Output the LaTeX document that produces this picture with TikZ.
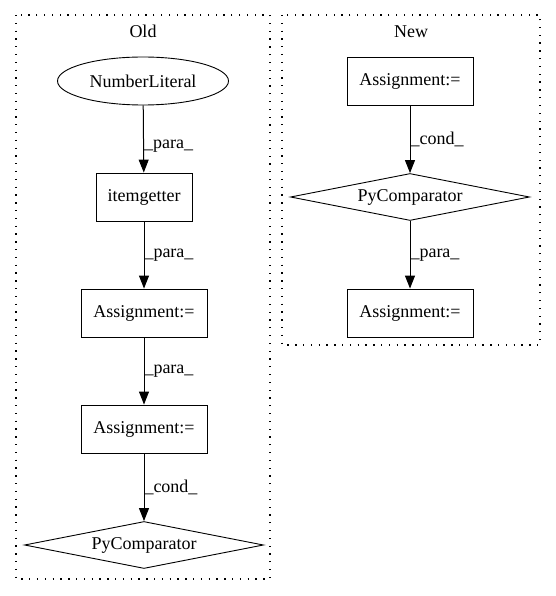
\documentclass[tikz,border=0pt]{standalone}
\usepackage{fontspec}
\setmainfont{Liberation Serif}
\usetikzlibrary{shapes.geometric, arrows.meta}
\tikzstyle{arrow} = [line width=1pt,->,>={Triangle[length=13pt,width=10pt]}]
\tikzstyle{stmt} = [rectangle, minimum width=126pt, minimum height=48pt, inner sep=0pt, text centered, draw=black, line width=0.9pt]
\tikzstyle{literal} = [ellipse, minimum width=171pt, minimum height=48pt, inner sep=0pt, text centered, draw=black, line width=0.9pt]
\tikzstyle{compare} = [diamond, aspect=5.1, minimum width=239pt, minimum height=47pt, inner sep=0pt, text centered, draw=black, line width=0.9pt]
\tikzstyle{cluster} = [draw=black, line width=1.3pt, dash pattern=on 1.3pt off 6.5pt]
\tikzstyle{elabel} = [anchor=west, inner sep=0pt]
\tikzset{every node/.append style={font=\fontsize{18}{21}\selectfont}}

\begin{document}
\begin{tikzpicture}[x=1pt, y=-1pt]
\useasboundingbox (0,0) rectangle (555,596);

% clusters
\draw [cluster] (16,15) rectangle (270,579);
\draw [cluster] (282,15) rectangle (540,345);
\node (old) at (143,31) {Old};
\node (new) at (411,32) {New};

% old
\node (num) [literal] at (143,81) {NumberLiteral};
\node (getter) [stmt, minimum width=96pt] at (144,197) {itemgetter};
\node (asg1) [stmt] at (144,313) {Assignment:=};
\node (asg2) [stmt] at (144,429) {Assignment:=};
\node (cmp1) [compare] at (144,545) {PyComparator};

% new
\node (asg3) [stmt] at (410,81) {Assignment:=};
\node (cmp2) [compare] at (410,197) {PyComparator};
\node (asg4) [stmt] at (410,313) {Assignment:=};

\draw [arrow] (num) -- node[elabel, pos=0.6]{\_para\_} (getter);
\draw [arrow] (getter) -- node[elabel, pos=0.5]{\_para\_} (asg1);
\draw [arrow] (asg1) -- node[elabel, pos=0.5]{\_para\_} (asg2);
\draw [arrow] (asg2) -- node[elabel, pos=0.5]{\_cond\_} (cmp1);
\draw [arrow] (asg3) -- node[elabel, pos=0.5]{\_cond\_} (cmp2);
\draw [arrow] (cmp2) -- node[elabel, pos=0.5]{\_para\_} (asg4);

\end{tikzpicture}
\end{document}
